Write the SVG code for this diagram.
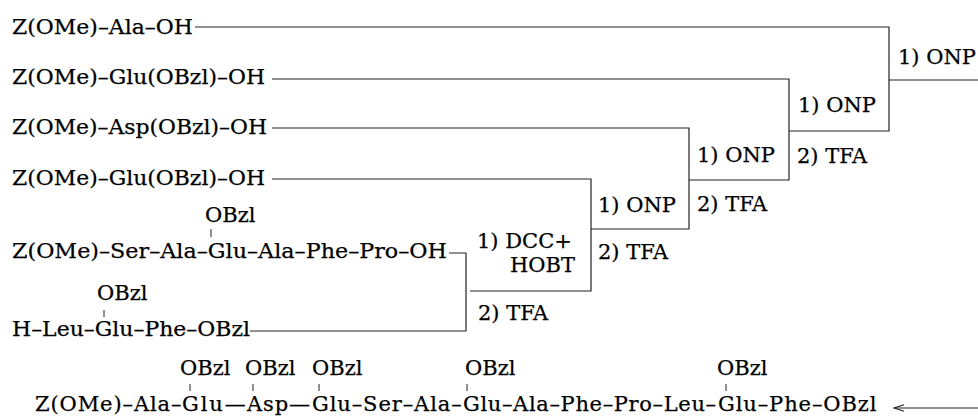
<svg xmlns="http://www.w3.org/2000/svg" width="978" height="417" viewBox="0 0 978 417">
<style>
text{font-family:"DejaVu Serif","Liberation Serif",serif;font-size:21px;fill:#000;stroke:#000;stroke-width:0.25}
.c{stroke:#222;stroke-width:1.2;fill:none}
.t{stroke:#222;stroke-width:1}
</style>
<defs>
<marker id="ah" markerWidth="12" markerHeight="10" refX="11" refY="5" orient="auto" markerUnits="userSpaceOnUse">
<path d="M1,1.8 L11,5 L1,8.2" stroke="#222" stroke-width="1.1" fill="none"/>
</marker>
</defs>
<rect width="978" height="417" fill="#fff"/>
<g id="connectors">
<path class="c" d="M195,27 H889 V131 H789"/>
<path class="c" d="M889,80 H978"/>
<path class="c" d="M272,79 H789 V180 H689"/>
<path class="c" d="M272,128 H689 V229 H591"/>
<path class="c" d="M272,179 H591 V291 H470"/>
<path class="c" d="M449,253 H466 V331 H250"/>
<path class="c" d="M978,408 H894" marker-end="url(#ah)"/>
</g>
<g id="n1"><text x="12" y="33.5" textLength="181" lengthAdjust="spacingAndGlyphs">Z(OMe)–Ala–OH</text></g>
<g id="n2"><text x="12" y="84" textLength="253" lengthAdjust="spacingAndGlyphs">Z(OMe)–Glu(OBzl)–OH</text></g>
<g id="n3"><text x="12" y="134" textLength="255" lengthAdjust="spacingAndGlyphs">Z(OMe)–Asp(OBzl)–OH</text></g>
<g id="n4"><text x="12" y="185" textLength="253" lengthAdjust="spacingAndGlyphs">Z(OMe)–Glu(OBzl)–OH</text></g>
<g id="n5">
<text x="205" y="222">OBzl</text>
<line class="t" x1="211" y1="229" x2="211" y2="237"/>
<text x="12" y="258" textLength="435" lengthAdjust="spacingAndGlyphs">Z(OMe)–Ser–Ala–Glu–Ala–Phe–Pro–OH</text>
</g>
<g id="n6">
<text x="97" y="300">OBzl</text>
<line class="t" x1="104" y1="310" x2="104" y2="317"/>
<text x="12" y="336" textLength="238" lengthAdjust="spacingAndGlyphs">H–Leu–Glu–Phe–OBzl</text>
</g>
<g id="r-dcc">
<text x="477" y="248">1) DCC+</text>
<text x="510" y="272">HOBT</text>
<text x="478" y="320">2) TFA</text>
</g>
<g id="r4">
<text x="598" y="212">1) ONP</text>
<text x="598" y="259">2) TFA</text>
</g>
<g id="r3">
<text x="697" y="162">1) ONP</text>
<text x="697" y="211">2) TFA</text>
</g>
<g id="r2">
<text x="798" y="112">1) ONP</text>
<text x="797" y="163">2) TFA</text>
</g>
<g id="r1">
<text x="898" y="64">1) ONP</text>
</g>
<g id="product">
<text x="180" y="375">OBzl</text>
<text x="245" y="375">OBzl</text>
<text x="312" y="375">OBzl</text>
<text x="465" y="375">OBzl</text>
<text x="717" y="375">OBzl</text>
<line class="t" x1="190" y1="384" x2="190" y2="391"/>
<line class="t" x1="253" y1="384" x2="253" y2="391"/>
<line class="t" x1="319" y1="384" x2="319" y2="391"/>
<line class="t" x1="467" y1="384" x2="467" y2="391"/>
<line class="t" x1="726" y1="384" x2="726" y2="391"/>
<text y="411" letter-spacing="0.9"><tspan x="35">Z(OMe)–Ala–</tspan><tspan x="182" letter-spacing="1.9">Glu—</tspan><tspan x="247">Asp—</tspan><tspan x="312">Glu–Ser–Ala–</tspan><tspan x="463" letter-spacing="0.65">Glu–Ala–Phe–Pro–Leu–</tspan><tspan x="718">Glu–Phe–OBzl</tspan></text>
</g>
</svg>
